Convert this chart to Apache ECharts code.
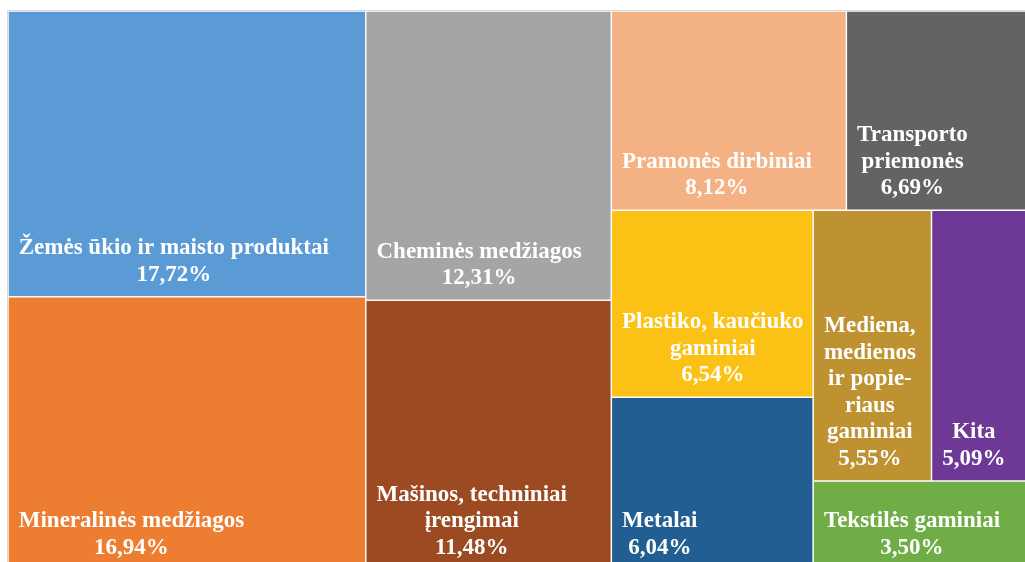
<!DOCTYPE html>
<html>
<head>
<meta charset="utf-8">
<style>
html,body{margin:0;padding:0;background:#ffffff;}
#chart{width:1025px;height:562px;}
</style>
<script src="https://cdn.jsdelivr.net/npm/echarts@6/dist/echarts.min.js"></script>
</head>
<body>
<div id="chart"></div>
<script>
// ---- data ----
const categories = [
  'Žemės ūkio ir maisto produktai',
  'Mineralinės medžiagos',
  'Cheminės medžiagos',
  'Mašinos, techniniai įrengimai',
  'Pramonės dirbiniai',
  'Transporto priemonės',
  'Plastiko, kaučiuko gaminiai',
  'Metalai',
  'Mediena, medienos ir popieriaus gaminiai',
  'Kita',
  'Tekstilės gaminiai'
];
const shares = [17.72, 16.94, 12.31, 11.48, 8.12, 6.69, 6.54, 6.04, 5.55, 5.09, 3.50];
const colors = ['#5B9BD5', '#ED7D31', '#A5A5A5', '#9C4A21', '#F4B183', '#636363',
                '#FBC115', '#235E92', '#BF9231', '#6E3996', '#70AD47'];
const labelLines = [
  ['Žemės ūkio ir maisto produktai'],
  ['Mineralinės medžiagos'],
  ['Cheminės medžiagos'],
  ['Mašinos, techniniai', 'įrengimai'],
  ['Pramonės dirbiniai'],
  ['Transporto', 'priemonės'],
  ['Plastiko, kaučiuko', 'gaminiai'],
  ['Metalai'],
  ['Mediena,', 'medienos', 'ir popie-', 'riaus', 'gaminiai'],
  ['Kita'],
  ['Tekstilės gaminiai']
];
// grouping of the tiles (indices into the arrays above)
const tiling = [0, 1, 2, 3, [4, 5, [6, 7, [8, 9, 10]]]];

// ---- label helpers ----
const FONT_SIZE = 23;
const FONT_FAMILY = 'Liberation Serif';
const measureCtx = document.createElement('canvas').getContext('2d');
measureCtx.font = 'bold ' + FONT_SIZE + 'px "' + FONT_FAMILY + '"';
function fmtPct(v) { return v.toFixed(2).replace('.', ',') + '%'; }

function leaf(i) {
  const lines = labelLines[i].concat([fmtPct(shares[i])]);
  const w = Math.max.apply(null, lines.map(l => measureCtx.measureText(l).width));
  return {
    name: categories[i],
    value: shares[i],
    itemStyle: { color: colors[i] },
    label: {
      position: [10 + w / 2, '100%'],
      offset: [0, -8],
      align: 'center',
      verticalAlign: 'bottom',
      formatter: lines.join('\n')
    }
  };
}
function build(node) {
  if (Array.isArray(node)) {
    return { name: '', children: node.map(build), itemStyle: { borderWidth: 0, gapWidth: 0, borderColor: '#ffffff' } };
  }
  return leaf(node);
}
const treeData = tiling.map(build);

const chart = echarts.init(document.getElementById('chart'), null, { renderer: 'canvas' });
chart.setOption({
  animation: false,
  tooltip: { show: false },
  series: [{
    type: 'treemap',
    left: 7, top: 10, width: 1034, height: 561,
    roam: false,
    nodeClick: false,
    sort: false,
    breadcrumb: { show: false },
    visibleMin: 0,
    itemStyle: { borderColor: '#ffffff', borderWidth: 0.75, gapWidth: 0 },
    levels: [
      { itemStyle: { borderColor: '#D9D9D9', borderWidth: 1, gapWidth: 0 } }
    ],
    label: {
      show: true,
      color: '#ffffff',
      fontFamily: FONT_FAMILY,
      fontWeight: 'bold',
      fontSize: FONT_SIZE,
      lineHeight: 26.5,
      padding: 0,
      overflow: 'none'
    },
    upperLabel: { show: false },
    emphasis: { disabled: true },
    data: treeData
  }]
});
</script>
</body>
</html>
